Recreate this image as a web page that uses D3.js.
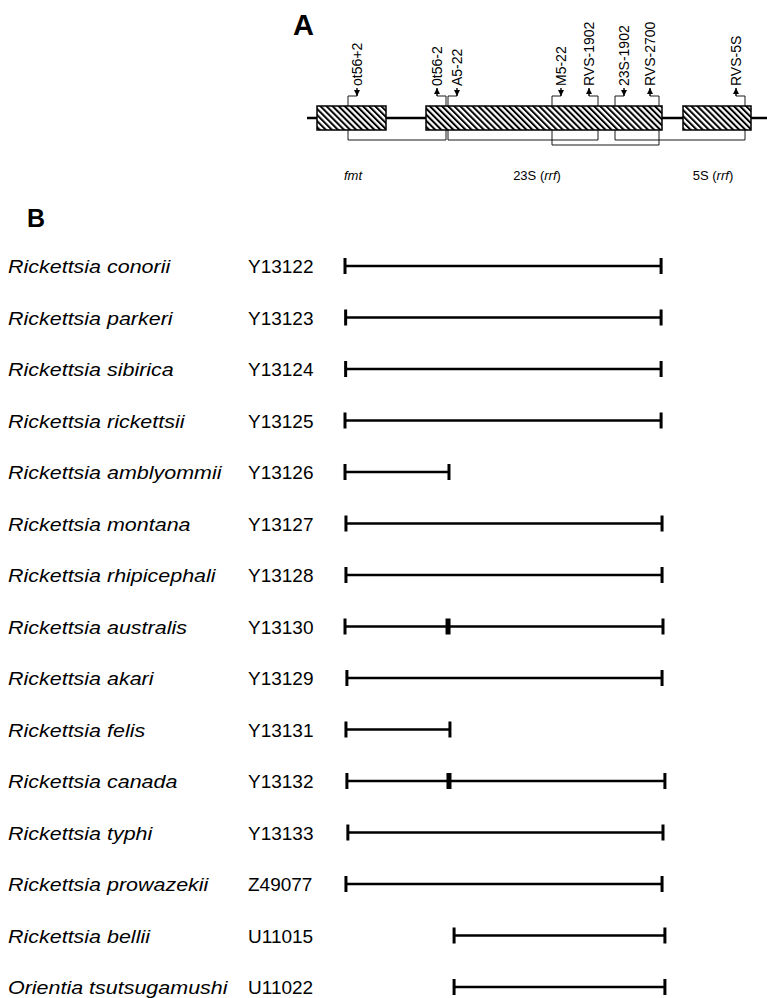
<!DOCTYPE html>
<html><head><meta charset="utf-8">
<script src="https://cdn.jsdelivr.net/npm/d3@7"></script>
<style>
body{margin:0;background:#fff}
svg{display:block}
text{font-family:"Liberation Sans",Arial,Helvetica,sans-serif;fill:#000}
</style>
</head><body>
<svg id="c" width="767" height="998"></svg>
<script>
// ---------- Panel A data (map units, bp-like) ----------
const geneNames   = ["fmt", "23S", "5S"];
const geneStart   = [100, 1190, 3760];
const geneEnd     = [790, 3550, 4440];
const geneLabelAt = [460, 2300, 4060];
const geneSuffix  = ["", " (", " ("];
const geneItalic  = ["fmt", "rrf", "rrf"];

const primerNames  = ["ot56+2", "0t56-2", "A5-22", "M5-22", "RVS-1902", "23S-1902", "RVS-2700", "RVS-5S"];
const primerPos    = [410, 1390, 1410, 2450, 2910, 3080, 3520, 4380];
const primerStrand = [1, -1, 1, 1, -1, 1, -1, -1];

const ampFrom  = ["ot56+2", "A5-22", "M5-22", "23S-1902"];
const ampTo    = ["0t56-2", "RVS-1902", "RVS-2700", "RVS-5S"];
const ampLevel = [0, 0, 1, 0];

// ---------- Panel B data (% of fmt–23S–5S region) ----------
const species = ["Rickettsia conorii", "Rickettsia parkeri", "Rickettsia sibirica", "Rickettsia rickettsii",
  "Rickettsia amblyommii", "Rickettsia montana", "Rickettsia rhipicephali", "Rickettsia australis",
  "Rickettsia akari", "Rickettsia felis", "Rickettsia canada", "Rickettsia typhi",
  "Rickettsia prowazekii", "Rickettsia bellii", "Orientia tsutsugamushi"];
const accessions = ["Y13122", "Y13123", "Y13124", "Y13125", "Y13126", "Y13127", "Y13128", "Y13130",
  "Y13129", "Y13131", "Y13132", "Y13133", "Z49077", "U11015", "U11022"];
const seqStart = [0, 0.2, 0.2, 0, 0, 0.3, 0.3, 0, 0.6, 0.3, 0.6, 0.9, 0.3, 34.3, 34.3];
const seqEnd   = [99.4, 99.4, 99.4, 99.4, 32.7, 99.7, 99.7, 100, 99.7, 33.0, 100.6, 100, 99.7, 100.6, 100.6];
const seqMark  = [null, null, null, null, null, null, null, 32.4, null, null, 32.7, null, null, null, null];

const svg = d3.select("#c");

// ================= Panel A =================
const xA = d3.scaleLinear().domain([0, 4600]).range([307, 767]);
const boxTop = 106, boxH = 24, backboneY = 118, connY = 96, levelY = [140, 145];

svg.append("text").attr("x", 293).attr("y", 35).attr("font-size", 29).attr("font-weight", "bold").text("A");

const defs = svg.append("defs");
const pat = defs.append("pattern").attr("id", "hatch").attr("patternUnits", "userSpaceOnUse")
  .attr("width", 4.3).attr("height", 4.3).attr("patternTransform", "rotate(-45)");
pat.append("rect").attr("width", 4.3).attr("height", 4.3).attr("fill", "#fff");
pat.append("line").attr("x1", 1).attr("x2", 1).attr("y1", 0).attr("y2", 4.3)
  .attr("stroke", "#000").attr("stroke-width", 2);

svg.append("line").attr("x1", xA(0)).attr("x2", xA(4600)).attr("y1", backboneY).attr("y2", backboneY)
  .attr("stroke", "#000").attr("stroke-width", 2.5);

const pIndex = n => primerNames.indexOf(n);

primerNames.forEach((n, i) => {
  let bottom = connY;
  ampFrom.forEach((f, j) => { if (f === n || ampTo[j] === n) bottom = Math.max(bottom, levelY[ampLevel[j]]); });
  svg.append("line").attr("x1", xA(primerPos[i])).attr("x2", xA(primerPos[i]))
    .attr("y1", connY).attr("y2", bottom).attr("stroke", "#000").attr("stroke-width", 0.9);
});

ampFrom.forEach((f, j) => {
  svg.append("line").attr("x1", xA(primerPos[pIndex(f)])).attr("x2", xA(primerPos[pIndex(ampTo[j])]))
    .attr("y1", levelY[ampLevel[j]]).attr("y2", levelY[ampLevel[j]])
    .attr("stroke", "#000").attr("stroke-width", 0.9);
});

geneNames.forEach((g, i) => {
  svg.append("rect").attr("x", xA(geneStart[i])).attr("y", boxTop)
    .attr("width", xA(geneEnd[i]) - xA(geneStart[i])).attr("height", boxH)
    .attr("fill", "url(#hatch)").attr("stroke", "#000").attr("stroke-width", 1.5);
});

primerNames.forEach((n, i) => {
  const px = xA(primerPos[i]);
  const s = primerStrand[i];
  const ax = px + s * 9;
  svg.append("line").attr("x1", px).attr("x2", ax).attr("y1", connY).attr("y2", connY)
    .attr("stroke", "#000").attr("stroke-width", 0.9);
  svg.append("line").attr("x1", ax).attr("x2", ax).attr("y1", 88).attr("y2", connY)
    .attr("stroke", "#000").attr("stroke-width", 1.4);
  const tri = s > 0
    ? [[ax - 3, connY - 6], [ax + 3, connY - 6], [ax, connY]]
    : [[ax - 3, 94], [ax + 3, 94], [ax, 88]];
  svg.append("path").attr("d", d3.line()(tri) + "Z").attr("fill", "#000");
  svg.append("text").attr("transform", `translate(${ax},86) rotate(-90)`)
    .attr("dy", "0.36em").attr("font-size", 14).text(n);
});

geneNames.forEach((g, i) => {
  const t = svg.append("text").attr("x", xA(geneLabelAt[i])).attr("y", 180)
    .attr("font-size", 13).attr("text-anchor", "middle");
  if (g === "fmt") {
    t.append("tspan").attr("font-style", "italic").text(geneItalic[i]);
  } else {
    t.append("tspan").text(g + geneSuffix[i]);
    t.append("tspan").attr("font-style", "italic").text(geneItalic[i]);
    t.append("tspan").text(")");
  }
});

// ================= Panel B =================
svg.append("text").attr("x", 27).attr("y", 227).attr("font-size", 25).attr("font-weight", "bold").text("B");

const xB = d3.scaleLinear().domain([0, 100]).range([345, 663]);
const yB = d3.scalePoint().domain(species).range([266, 987]);
const stretch = 1.13;

species.forEach((sp, i) => {
  const y = yB(sp);
  const st = svg.append("text").attr("transform", `translate(8,${y + 7}) scale(${stretch},1)`)
    .attr("font-size", 19).attr("font-style", "italic").text(sp);
  const w = st.node().getComputedTextLength() * stretch;
  svg.append("text").attr("x", Math.max(248, 8 + w + 6)).attr("y", y + 7).attr("font-size", 19).text(accessions[i]);

  const x0 = xB(seqStart[i]), x1 = xB(seqEnd[i]);
  svg.append("line").attr("x1", x0).attr("x2", x1).attr("y1", y).attr("y2", y)
    .attr("stroke", "#000").attr("stroke-width", 2.6);
  [x0, x1].forEach(x => svg.append("rect").attr("x", x - 1.5).attr("y", y - 8)
    .attr("width", 3).attr("height", 16).attr("fill", "#000"));
  if (seqMark[i] != null) {
    svg.append("rect").attr("x", xB(seqMark[i]) - 2.5).attr("y", y - 8)
      .attr("width", 5).attr("height", 16).attr("fill", "#000");
  }
});
</script>
</body></html>
